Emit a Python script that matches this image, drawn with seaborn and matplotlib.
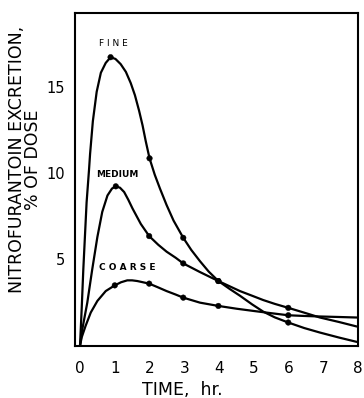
import pandas as pd
import seaborn as sns
import matplotlib.pyplot as plt

# curve points (time in hr, % of dose)
fine_t = [0, 0.05, 0.095, 0.19, 0.26, 0.29, 0.37, 0.48, 0.60, 0.74, 0.88, 1.02, 1.17, 1.32, 1.46,
          1.58, 1.70, 1.80, 1.89, 2.0, 2.15, 2.30, 2.49, 2.69, 2.97, 3.20, 3.45, 3.70, 3.98, 4.3,
          4.6, 4.95, 5.27, 5.6, 5.99, 6.45, 6.9, 7.45, 7.96]
fine_y = [0, 2.2, 4.4, 8.3, 10.2, 11.1, 13.0, 14.7, 15.8, 16.37, 16.7, 16.6, 16.3, 15.85, 15.2,
          14.5, 13.6, 12.75, 11.85, 10.85, 9.9, 9.1, 8.15, 7.25, 6.25, 5.55, 4.9, 4.3, 3.75, 3.3,
          2.9, 2.4, 1.98, 1.65, 1.35, 1.03, 0.77, 0.48, 0.23]

medium_t = [0, 0.07, 0.21, 0.35, 0.50, 0.64, 0.79, 0.92, 1.03, 1.15, 1.27, 1.39, 1.51, 1.75, 1.99,
            2.25, 2.49, 2.75, 2.97, 3.45, 3.98, 4.3, 4.6, 4.95, 5.27, 5.6, 5.99, 6.45, 6.9, 7.45,
            7.96]
medium_y = [0, 1.0, 2.5, 4.4, 6.3, 7.75, 8.7, 9.1, 9.23, 9.15, 8.9, 8.45, 7.95, 7.05, 6.35,
            5.85, 5.45, 5.1, 4.77, 4.27, 3.75, 3.45, 3.17, 2.9, 2.65, 2.43, 2.2, 1.92, 1.64, 1.38,
            1.12]

coarse_t = [0, 0.05, 0.16, 0.31, 0.50, 0.74, 1.0, 1.18, 1.36, 1.50, 1.65, 1.99, 2.25, 2.49, 2.75,
            2.97, 3.45, 3.98, 4.5, 4.99, 5.5, 5.99, 6.45, 6.9, 7.45, 7.96]
coarse_y = [0, 0.5, 1.15, 1.93, 2.6, 3.17, 3.5, 3.68, 3.79, 3.79, 3.75, 3.6, 3.38, 3.17, 2.97,
            2.79, 2.5, 2.31, 2.15, 2.02, 1.89, 1.77, 1.73, 1.70, 1.67, 1.64]

# measured points (dots)
fine_pt_t = [0.88, 2, 2.97, 3.98, 5.99]
fine_pt_y = [16.7, 10.85, 6.25, 3.75, 1.35]
medium_pt_t = [1.03, 1.99, 2.97, 3.98, 5.99]
medium_pt_y = [9.23, 6.35, 4.77, 3.75, 2.2]
coarse_pt_t = [1.0, 1.99, 2.97, 3.98, 5.99]
coarse_pt_y = [3.5, 3.6, 2.79, 2.31, 1.77]

x_ticks = [0, 1, 2, 3, 4, 5, 6, 7, 8]
y_ticks = [5, 10, 15]

curves = pd.concat([
    pd.DataFrame({'time': fine_t, 'excretion': fine_y, 'size': 'FINE'}),
    pd.DataFrame({'time': medium_t, 'excretion': medium_y, 'size': 'MEDIUM'}),
    pd.DataFrame({'time': coarse_t, 'excretion': coarse_y, 'size': 'COARSE'}),
])
points = pd.concat([
    pd.DataFrame({'time': fine_pt_t, 'excretion': fine_pt_y, 'size': 'FINE'}),
    pd.DataFrame({'time': medium_pt_t, 'excretion': medium_pt_y, 'size': 'MEDIUM'}),
    pd.DataFrame({'time': coarse_pt_t, 'excretion': coarse_pt_y, 'size': 'COARSE'}),
])

sns.set_style('white')
plt.rcParams['font.family'] = ['DejaVu Sans']
# plain black text like the scanned original
plt.rcParams['text.color'] = 'black'
plt.rcParams['axes.labelcolor'] = 'black'
plt.rcParams['xtick.color'] = 'black'
plt.rcParams['ytick.color'] = 'black'

fig = plt.figure(figsize=(3.64, 3.98), dpi=100)
ax = fig.add_axes([0.206, 0.131, 0.778, 0.836])

black = {'FINE': 'black', 'MEDIUM': 'black', 'COARSE': 'black'}
sns.lineplot(data=curves, x='time', y='excretion', hue='size', palette=black,
             sort=False, estimator=None, linewidth=1.6, legend=False, ax=ax)
sns.scatterplot(data=points, x='time', y='excretion', hue='size', palette=black,
                s=16, edgecolor='black', legend=False, ax=ax, zorder=3)

ax.set_xlim(-0.144, 8)
ax.set_ylim(0, 19.25)
ax.set_xticks(x_ticks)
ax.set_yticks(y_ticks)
ax.tick_params(axis='x', direction='in', length=4, width=1, labelsize=11, pad=11)
ax.tick_params(axis='y', direction='out', length=4, width=1, labelsize=10.5, pad=3)
for s in ax.spines.values():
    s.set_linewidth(1.5)
    s.set_color('black')

ax.set_xlabel('TIME,  hr.', fontsize=12.5)
ax.xaxis.set_label_coords(0.38, -0.105)
ax.set_ylabel('NITROFURANTOIN EXCRETION,\n% OF DOSE', fontsize=12.5, linespacing=0.85)
ax.yaxis.set_label_coords(-0.118, 0.56)

ax.text(0.95, 17.5, 'F I N E', fontsize=6.5, ha='center', va='center')
ax.text(1.06, 9.9, 'MEDIUM', fontsize=6.5, ha='center', va='center', fontweight='bold')
ax.text(1.35, 4.54, 'C O A R S E', fontsize=6.5, ha='center', va='center', fontweight='bold')

fig.savefig('out.png', dpi=100)
